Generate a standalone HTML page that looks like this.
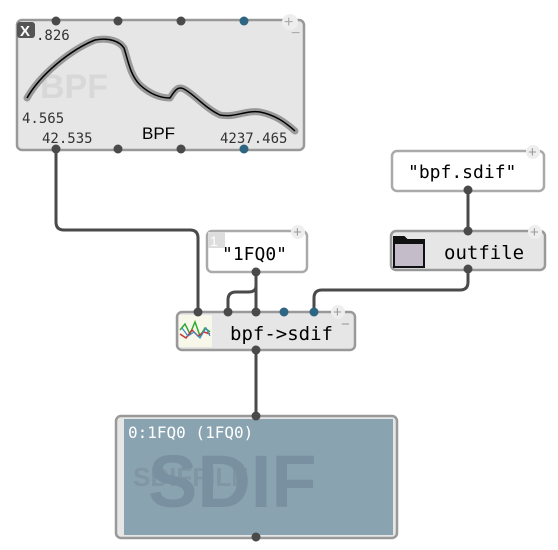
<!DOCTYPE html>
<html><head><style>body{margin:0;background:#fff}svg{display:block}</style></head><body>
<svg width="558" height="550" xmlns="http://www.w3.org/2000/svg" font-family="DejaVu Sans Mono, Liberation Mono, monospace">
<g fill="none" stroke="#4a4a4a" stroke-width="3">
<path d="M56,150 V222 Q56,230 64,230 H190 Q198,230 198,238 V311"/>
<path d="M256,272 V311"/>
<path d="M256,280 V286 Q256,292 248,292 H236 Q228,292 228,300 V311"/>
<path d="M468,190 V230"/>
<path d="M468,270 V282 Q468,290 460,290 H322 Q314,290 314,298 V311"/>
<path d="M256,350 V415"/>
</g>
<!-- BPF box -->
<rect x="17" y="20" width="287" height="130" rx="5" fill="#e6e6e6" stroke="#999" stroke-width="2.5"/>
<text x="40" y="98" font-family="Liberation Sans, sans-serif" font-weight="bold" font-size="34" fill="#d8d8d8">BPF</text>
<path d="M27,98 C40,75 70,50 95,40 C110,37 120,42 124,48 C128,60 130,75 140,85 C150,94 160,98 170,98 C175,90 178,86 184,89 C195,95 205,108 220,115 C235,118 245,110 260,112 C275,115 285,122 295,131" fill="none" stroke="#999" stroke-width="7" stroke-linejoin="round" stroke-linecap="round"/>
<path d="M27,98 C40,75 70,50 95,40 C110,37 120,42 124,48 C128,60 130,75 140,85 C150,94 160,98 170,98 C175,90 178,86 184,89 C195,95 205,108 220,115 C235,118 245,110 260,112 C275,115 285,122 295,131" fill="none" stroke="#000" stroke-width="1.5"/>
<rect x="17" y="22" width="18" height="16" rx="3" fill="#555"/>
<text x="20" y="36" font-family="Liberation Sans, sans-serif" font-weight="bold" font-size="15" fill="#fff">X</text>
<text x="36" y="40" font-size="14" fill="#333">.826</text>
<text x="22" y="123" font-size="14" fill="#333">4.565</text>
<text x="42" y="143" font-size="14" fill="#333">42.535</text>
<text x="142" y="139" font-family="Liberation Sans, sans-serif" font-size="17" fill="#000">BPF</text>
<text x="220" y="143" font-size="14" fill="#333">4237.465</text>
<circle cx="290" cy="22" r="8" fill="#eee"/><text x="284" y="27" font-family="Liberation Sans, sans-serif" font-size="16" fill="#aaa">+</text>
<text x="291" y="38" font-family="Liberation Sans, sans-serif" font-size="16" fill="#aaa">−</text>
<g fill="#4a4a4a"><circle cx="56" cy="21" r="4.5"/><circle cx="118" cy="21" r="4.5"/><circle cx="181" cy="21" r="4.5"/>
<circle cx="56" cy="149" r="4.5"/><circle cx="118" cy="149" r="4.5"/><circle cx="181" cy="149" r="4.5"/></g>
<g fill="#2e6582"><circle cx="244" cy="21" r="4.5"/><circle cx="244" cy="149" r="4.5"/></g>
<!-- bpf.sdif -->
<rect x="392" y="151" width="152" height="40" rx="5" fill="#fff" stroke="#aaa" stroke-width="2.5"/>
<text x="408" y="178" font-size="18" fill="#000">"bpf.sdif"</text>
<circle cx="533" cy="152" r="7" fill="#eee"/><text x="528" y="157" font-family="Liberation Sans, sans-serif" font-size="15" fill="#999">+</text>
<!-- outfile -->
<rect x="391" y="231" width="154" height="39" rx="5" fill="#e6e6e6" stroke="#999" stroke-width="2.5"/>
<path d="M394,237 h10 l3,3 h17 v27 h-30 z" fill="#c4bcc8" stroke="#111" stroke-width="2"/>
<path d="M394,237 h10 l3,3 h17 v4 h-30 z" fill="#111"/>
<text x="444" y="259" font-size="19" fill="#000">outfile</text>
<circle cx="535" cy="232" r="7" fill="#eee"/><text x="530" y="237" font-family="Liberation Sans, sans-serif" font-size="15" fill="#999">+</text>
<!-- 1FQ0 -->
<rect x="207" y="231" width="100" height="41" rx="5" fill="#fff" stroke="#aaa" stroke-width="2.5"/>
<rect x="208" y="232" width="17" height="16" fill="#ddd"/><text x="210" y="246" font-family="Liberation Sans, sans-serif" font-size="14" fill="#fff">1</text>
<text x="222" y="260" font-size="18" fill="#000">"1FQ0"</text>
<circle cx="298" cy="232" r="7" fill="#eee"/><text x="293" y="237" font-family="Liberation Sans, sans-serif" font-size="15" fill="#999">+</text>
<!-- bpf->sdif -->
<rect x="177" y="312" width="178" height="38" rx="5" fill="#e6e6e6" stroke="#999" stroke-width="2.5"/>
<rect x="179" y="315" width="33" height="32" fill="#f8f8ea"/>
<path d="M180,330 l5,-6 l5,10 l5,-12 l5,14 l5,-8 l5,4" fill="none" stroke="#3a3" stroke-width="1.5"/>
<path d="M180,334 l6,4 l6,-8 l6,6 l6,-4 l6,2" fill="none" stroke="#c33" stroke-width="1.5"/>
<path d="M182,328 l6,8 l6,-4 l6,6 l6,-10 l4,8" fill="none" stroke="#48c" stroke-width="1.2"/>
<text x="230" y="340" font-size="19" fill="#000">bpf-&gt;sdif</text>
<circle cx="338" cy="312" r="7" fill="#eee"/><text x="333" y="317" font-family="Liberation Sans, sans-serif" font-size="15" fill="#999">+</text>
<text x="341" y="329" font-family="Liberation Sans, sans-serif" font-size="15" fill="#999">−</text>
<g fill="#4a4a4a"><circle cx="198" cy="312" r="4.5"/><circle cx="228" cy="312" r="4.5"/><circle cx="256" cy="312" r="4.5"/>
<circle cx="256" cy="272" r="4.5"/><circle cx="468" cy="190" r="4.5"/><circle cx="468" cy="231" r="4.5"/><circle cx="468" cy="269" r="4.5"/><circle cx="256" cy="350" r="4.5"/></g>
<g fill="#2e6582"><circle cx="284" cy="312" r="4.5"/><circle cx="314" cy="312" r="4.5"/></g>
<!-- SDIF -->
<rect x="116" y="416" width="281" height="122" rx="5" fill="#e6e6e6" stroke="#999" stroke-width="2.5"/>
<rect x="124" y="419" width="269" height="116" fill="#8aa3b0"/>
<text x="133" y="486" font-family="Liberation Sans, sans-serif" font-weight="bold" font-size="26" fill="#8096a2">SDIFFILE</text>
<text x="148" y="507" font-family="Liberation Sans, sans-serif" font-weight="bold" font-size="74" fill="#7890a0">SDIF</text>
<text x="128" y="438" font-size="16" fill="#fff">0:1FQ0 (1FQ0)</text>
<g fill="#4a4a4a"><circle cx="256" cy="416" r="4.5"/><circle cx="256" cy="537" r="4.5"/></g>
</svg>
</body></html>
